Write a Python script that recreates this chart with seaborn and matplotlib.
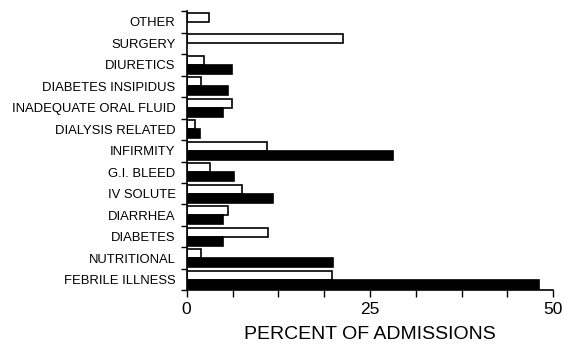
import pandas as pd
import numpy as np
import matplotlib
matplotlib.use("Agg")
import matplotlib.pyplot as plt
import seaborn as sns

# Causes (top to bottom) and percent of admissions per group
causes = ["OTHER", "SURGERY", "DIURETICS", "DIABETES INSIPIDUS",
          "INADEQUATE ORAL FLUID", "DIALYSIS RELATED", "INFIRMITY",
          "G.I. BLEED", "IV SOLUTE", "DIARRHEA", "DIABETES",
          "NUTRITIONAL", "FEBRILE ILLNESS"]
open_pct = [3.0, 21.3, 2.4, 1.9, 6.2, 1.2, 11.0, 3.2, 7.5, 5.7, 11.1, 2.0, 19.8]
solid_pct = [np.nan, np.nan, 6.2, 5.7, 5.0, 1.8, 28.2, 6.4, 11.8, 5.0, 5.0, 19.9, 48.0]

df = pd.concat([
    pd.DataFrame({"cause": causes, "pct": open_pct, "group": "open"}),
    pd.DataFrame({"cause": causes, "pct": solid_pct, "group": "solid"}),
], ignore_index=True)

sns.set_style("ticks", {"text.color": "black", "axes.labelcolor": "black",
                        "axes.edgecolor": "black", "xtick.color": "black",
                        "ytick.color": "black"})
plt.rcParams["font.family"] = ["Liberation Sans", "DejaVu Sans"]

fig = plt.figure(figsize=(5.64, 3.49), dpi=100)
ax = fig.add_axes([0.331, 0.168, 0.650, 0.80])

sns.barplot(data=df, y="cause", x="pct", hue="group", order=causes,
            hue_order=["open", "solid"],
            palette={"open": "white", "solid": "black"},
            edgecolor="black", linewidth=1.2, width=0.85,
            orient="h", legend=False, ax=ax)

ax.set_xlim(0, 50)
ax.set_ylim(len(causes) - 0.5, -0.5)
ax.set_xticks([0, 25, 50])
ax.set_xticks(np.arange(0, 50.1, 6.25), minor=True)
ax.set_yticks(np.arange(-0.5, len(causes), 1.0), minor=True)
ax.tick_params(axis="y", which="major", length=0, labelsize=9.4, pad=8)
ax.tick_params(axis="y", which="minor", length=4, width=1)
ax.tick_params(axis="x", which="both", length=5, width=1, labelsize=12.5)
ax.set_xlabel("PERCENT OF ADMISSIONS", fontsize=14, labelpad=6)
ax.set_ylabel("")
for s in ["top", "right"]:
    ax.spines[s].set_visible(False)
for s in ["left", "bottom"]:
    ax.spines[s].set_linewidth(1.2)

fig.savefig("out.png", dpi=100)
